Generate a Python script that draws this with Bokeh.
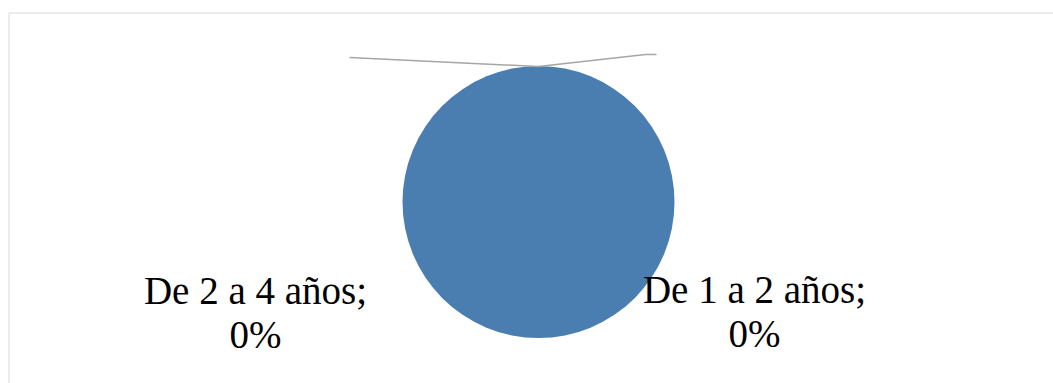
import math
from bokeh.plotting import figure
from bokeh.models import Range1d, ColumnDataSource
from bokeh.core.properties import value
from bokeh.embed import file_html
from bokeh.resources import INLINE

# ---- data ----
categories = ["Otros", "De 1 a 2 años", "De 2 a 4 años"]
percent_values = [100, 0, 0]
label_categories = ["De 2 a 4 años", "De 1 a 2 años"]
label_percents = [0, 0]

# ---- layout constants ----
W, H = 1053, 383
CX, CY, R = 538, 201.5, 136
label_cx = [255, 754]
label_base1 = [290, 289]
label_base2 = [334, 333]
leader_ends = [[(349, 57)], [(645, 54), (656, 54)]]

p = figure(width=W, height=H, output_backend="svg", toolbar_location=None,
           x_range=Range1d(0, W), y_range=Range1d(H, 0),
           min_border=0, outline_line_color=None, background_fill_color="white",
           border_fill_color="white")
p.axis.visible = False
p.grid.visible = False

# chart area border (top and left edges fall inside the window)
p.line(x=[8.5, 8.5, 1070], y=[400, 12.5, 12.5], line_color="#d9d9d9", line_width=1)

# pie wedges, clockwise from 12 o'clock
total = sum(percent_values)
starts, ends = [], []
cum = 0.0
for v in percent_values:
    a0 = cum / total * 2 * math.pi
    cum += v
    a1 = cum / total * 2 * math.pi
    starts.append(a0)
    ends.append(a1)

for cat, v, a0, a1 in zip(categories, percent_values, starts, ends):
    if v <= 0:
        continue
    if a1 - a0 >= 2 * math.pi - 1e-9:
        p.scatter(x=[CX], y=[CY], size=2 * R, marker="circle",
                  fill_color="#4a7eb0", line_color=None)
    else:
        p.wedge(x=[CX], y=[CY], radius=R, radius_units="screen",
                start_angle=-math.pi / 2 + a0, end_angle=-math.pi / 2 + a1,
                fill_color="#4a7eb0", line_color=None)

# leader lines from the slice midpoint on the rim to the labels
for i, cat in enumerate(label_categories):
    k = categories.index(cat)
    mid = (starts[k] + ends[k]) / 2
    sx = CX + R * math.sin(mid)
    sy = CY - R * math.cos(mid)
    pts = [(sx, sy + 0.5)] + leader_ends[i]
    p.line(x=[q[0] for q in pts], y=[q[1] for q in pts],
           line_color="#a6a6a6", line_width=1.5)

src = ColumnDataSource(dict(
    x=label_cx + label_cx,
    y=label_base1 + label_base2,
    t=[c + ";" for c in label_categories] + [f"{v}%" for v in label_percents],
))
p.text(x="x", y="y", text="t", source=src, text_align="center",
       text_baseline="alphabetic", text_font=value("Liberation Serif"),
       text_font_size="39px", text_color="black")

open("out.html", "w").write(file_html(p, INLINE))
